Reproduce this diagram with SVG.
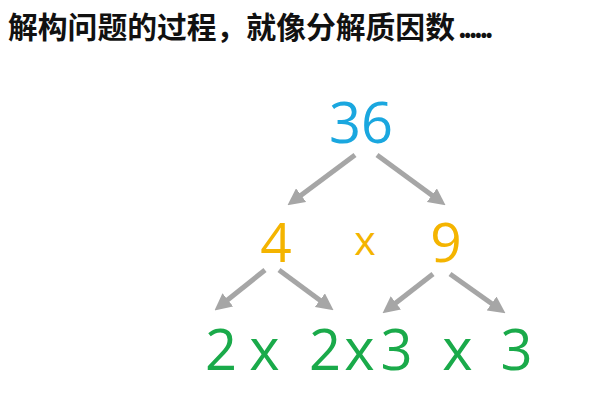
<svg xmlns="http://www.w3.org/2000/svg" width="600" height="400" viewBox="0 0 600 400">
  <style>
    .title { font-family: "Noto Sans CJK SC", "Liberation Sans", sans-serif; font-weight: bold; font-size: 29.8px; fill: #111111; }
    .dots { letter-spacing: -3.4px; font-size: 27px; }
    .num { font-family: "Open Sans", "Liberation Sans", sans-serif; text-anchor: middle; }
    .blue { fill: #1aa7df; font-size: 56px; }
    .yellow { fill: #f4b400; }
    .green { fill: #1aaa4a; }
    .arrow { stroke: #a6a6a6; stroke-width: 5; fill: none; marker-end: url(#ah); }
  </style>
  <defs>
    <marker id="ah" viewBox="0 0 10 10" refX="3.75" refY="5" markerWidth="17" markerHeight="17" markerUnits="userSpaceOnUse" orient="auto">
      <path d="M0,0 L10,5 L0,10 z" fill="#a6a6a6"/>
    </marker>
  </defs>
  <rect width="600" height="400" fill="#ffffff"/>
  <text class="title" x="8" y="38">解构问题的过程，就像分解质因数<tspan class="dots" dx="3">......</tspan></text>

  <g id="connectors">
    <line class="arrow" x1="355" y1="155" x2="296" y2="199"/>
    <line class="arrow" x1="377" y1="155" x2="437" y2="199"/>
    <line class="arrow" x1="265" y1="270" x2="222.8" y2="303.8"/>
    <line class="arrow" x1="279" y1="270" x2="325" y2="304"/>
    <line class="arrow" x1="433" y1="274" x2="390.9" y2="306.8"/>
    <line class="arrow" x1="450" y1="274" x2="496.8" y2="307.2"/>
  </g>

  <g id="n36"><text class="num blue" x="361" y="143">36</text></g>
  <g id="n4"><text class="num yellow" x="276" y="262" font-size="55">4</text></g>
  <g id="times1"><text class="num yellow" x="365" y="255" font-size="41">x</text></g>
  <g id="n9"><text class="num yellow" x="446" y="262" font-size="55">9</text></g>

  <g id="n2a"><text class="num green" x="221" y="370" font-size="56">2</text></g>
  <g id="times2"><text class="num green" x="264.5" y="370" font-size="58">x</text></g>
  <g id="n2b"><text class="num green" x="325" y="370" font-size="56">2</text></g>
  <g id="times3"><text class="num green" x="359.5" y="370" font-size="58">x</text></g>
  <g id="n3a"><text class="num green" x="396.5" y="370" font-size="56">3</text></g>
  <g id="times4"><text class="num green" x="457.5" y="370" font-size="58">x</text></g>
  <g id="n3b"><text class="num green" x="516.5" y="370" font-size="56">3</text></g>
</svg>
